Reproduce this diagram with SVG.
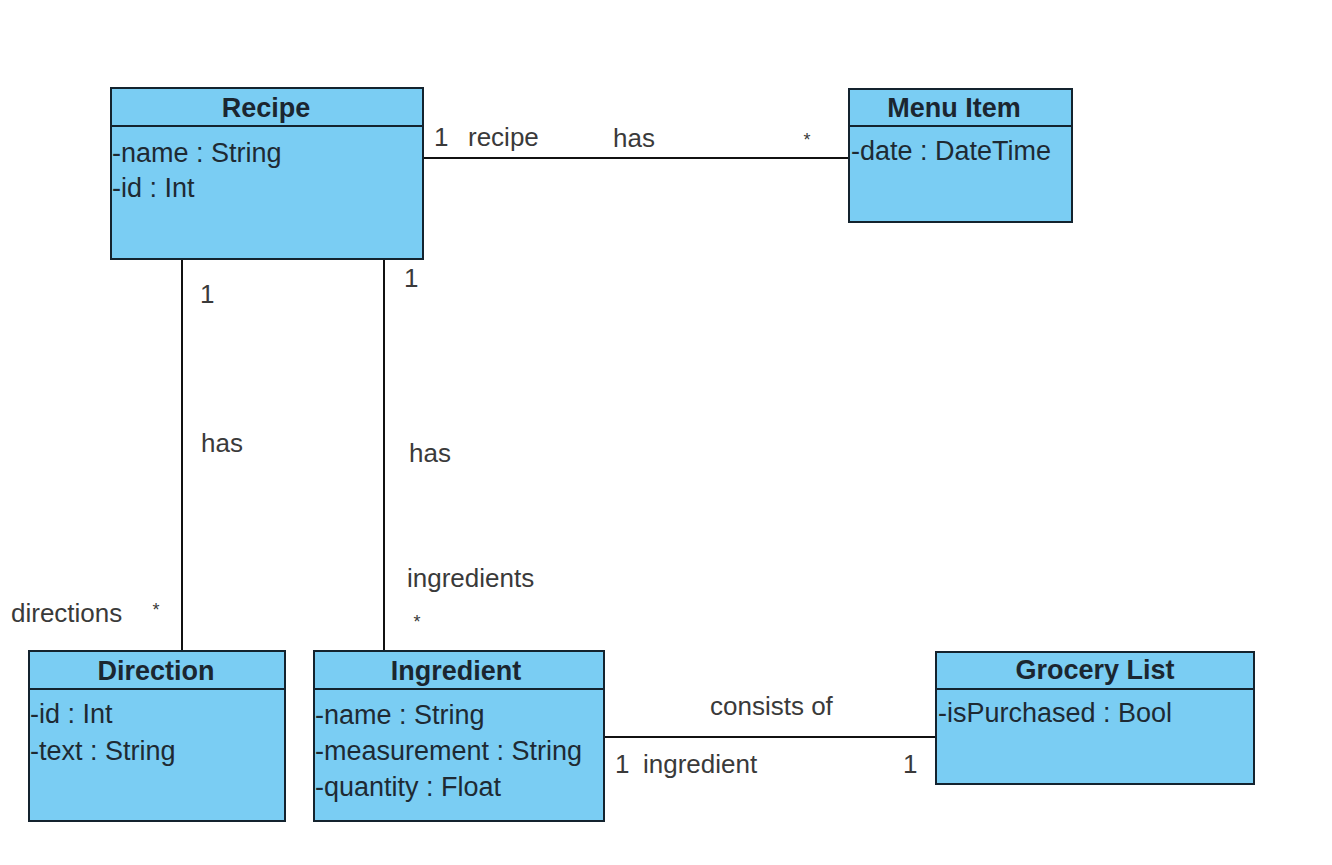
<svg xmlns="http://www.w3.org/2000/svg" width="1332" height="865" viewBox="0 0 1332 865">
<style>
.box{fill:#7acdf3;stroke:#14232e;stroke-width:2}
.sep{stroke:#14232e;stroke-width:2}
.title{font-family:"Liberation Sans",Arial,sans-serif;font-size:27px;font-weight:bold;fill:#1b2630;text-anchor:middle}
.attr{font-family:"Liberation Sans",Arial,sans-serif;font-size:27px;fill:#1e2a33}
.lbl{font-family:"Liberation Sans",Arial,sans-serif;font-size:26px;fill:#3a3a3a}
.star{font-family:"Liberation Sans",Arial,sans-serif;font-size:18px;fill:#3a3a3a;text-anchor:middle}
.conn{stroke:#111;stroke-width:2;fill:none}
</style>
<rect width="1332" height="865" fill="#ffffff"/>
<g id="connectors">
<line class="conn" x1="423" y1="158" x2="849" y2="158"/>
<line class="conn" x1="182" y1="259" x2="182" y2="651"/>
<line class="conn" x1="384" y1="259" x2="384" y2="651"/>
<line class="conn" x1="604" y1="737" x2="936" y2="737"/>
</g>
<g id="labels">
<text class="lbl" x="434" y="146">1</text>
<text class="lbl" x="468" y="146">recipe</text>
<text class="lbl" x="613" y="147">has</text>
<text class="star" x="807" y="146">*</text>
<text class="lbl" x="200" y="303">1</text>
<text class="lbl" x="404" y="287">1</text>
<text class="lbl" x="201" y="452">has</text>
<text class="lbl" x="409" y="462">has</text>
<text class="lbl" x="407" y="587">ingredients</text>
<text class="star" x="417" y="628">*</text>
<text class="lbl" x="11" y="622">directions</text>
<text class="star" x="156" y="616">*</text>
<text class="lbl" x="710" y="715">consists of</text>
<text class="lbl" x="615" y="773">1</text>
<text class="lbl" x="643" y="773">ingredient</text>
<text class="lbl" x="903" y="773">1</text>
</g>
<g id="recipe">
<rect class="box" x="111" y="88" width="312" height="171"/>
<line class="sep" x1="111" y1="126" x2="423" y2="126"/>
<text class="title" x="266" y="117">Recipe</text>
<text class="attr" x="112" y="162">-name : String</text>
<text class="attr" x="112" y="197">-id : Int</text>
</g>
<g id="menu-item">
<rect class="box" x="849" y="89" width="223" height="133"/>
<line class="sep" x1="849" y1="126" x2="1072" y2="126"/>
<text class="title" x="954" y="117">Menu Item</text>
<text class="attr" x="851" y="160">-date : DateTime</text>
</g>
<g id="direction">
<rect class="box" x="29" y="651" width="256" height="170"/>
<line class="sep" x1="29" y1="689" x2="285" y2="689"/>
<text class="title" x="156" y="680">Direction</text>
<text class="attr" x="30" y="723">-id : Int</text>
<text class="attr" x="30" y="760">-text : String</text>
</g>
<g id="ingredient">
<rect class="box" x="314" y="651" width="290" height="170"/>
<line class="sep" x1="314" y1="689" x2="604" y2="689"/>
<text class="title" x="456" y="680">Ingredient</text>
<text class="attr" x="315" y="724">-name : String</text>
<text class="attr" x="315" y="760">-measurement : String</text>
<text class="attr" x="315" y="796">-quantity : Float</text>
</g>
<g id="grocery-list">
<rect class="box" x="936" y="652" width="318" height="132"/>
<line class="sep" x1="936" y1="689" x2="1254" y2="689"/>
<text class="title" x="1095" y="679">Grocery List</text>
<text class="attr" x="938" y="722">-isPurchased : Bool</text>
</g>
</svg>
